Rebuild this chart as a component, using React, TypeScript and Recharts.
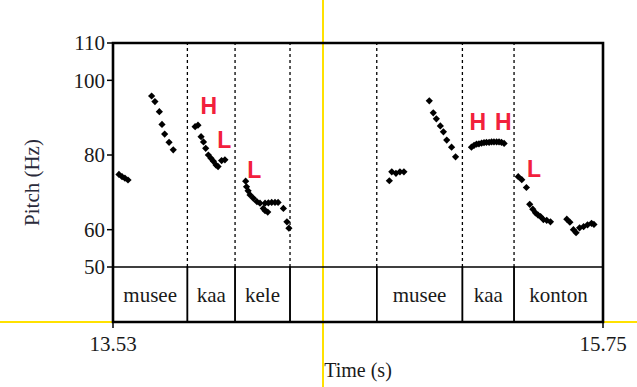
import {
  ScatterChart,
  Scatter,
  XAxis,
  YAxis,
  ReferenceLine,
  ReferenceArea,
} from 'recharts'

// pitch track, [time (s), pitch (Hz)], one array per stretch of voicing
const musee1A = [[13.557, 74.8], [13.571, 74.2], [13.584, 73.8], [13.598, 73.3]]
const musee1B = [
  [13.705, 95.8], [13.72, 94.3], [13.74, 91.6], [13.752, 88.2],
  [13.764, 85.6], [13.784, 83.4], [13.803, 81.4],
]
const kaa1 = [
  [13.902, 87.6], [13.915, 88.0], [13.929, 84.9], [13.94, 83.5], [13.95, 81.8],
  [13.962, 80.0], [13.974, 79.1], [13.985, 78.3], [13.997, 77.3], [14.006, 76.9],
  [14.022, 78.5], [14.037, 78.7],
]
const kele = [
  [14.131, 73.0], [14.135, 71.5], [14.142, 70.4], [14.151, 69.3], [14.166, 68.4],
  [14.182, 67.5], [14.196, 67.1], [14.211, 65.7], [14.219, 65.1], [14.231, 64.7],
  [14.219, 67.1], [14.234, 67.2], [14.249, 67.3], [14.264, 67.3], [14.278, 67.3],
  [14.302, 65.7], [14.318, 62.1], [14.327, 60.4],
]
const musee2A = [[14.782, 73.1], [14.793, 75.5], [14.812, 75.1], [14.83, 75.5], [14.848, 75.5]]
const musee2B = [
  [14.963, 94.5], [14.981, 91.3], [14.995, 89.7], [15.013, 87.8],
  [15.027, 86.2], [15.042, 84.0], [15.064, 82.1], [15.082, 79.5],
]
const kaa2 = [
  [15.154, 82.1], [15.166, 82.6], [15.177, 82.9], [15.188, 83.0], [15.2, 83.2],
  [15.211, 83.3], [15.222, 83.4], [15.234, 83.4], [15.245, 83.5], [15.256, 83.5],
  [15.268, 83.5], [15.279, 83.5], [15.29, 83.4], [15.302, 83.1],
]
const konton = [
  [15.366, 74.2], [15.382, 73.4], [15.403, 71.3], [15.418, 66.8], [15.432, 65.5],
  [15.444, 64.5], [15.456, 63.9], [15.467, 63.5], [15.48, 62.7], [15.495, 62.5],
  [15.512, 62.1], [15.586, 62.8], [15.6, 62.0], [15.616, 60.0], [15.628, 59.2],
  [15.644, 60.5], [15.662, 60.8], [15.68, 61.3], [15.698, 61.7], [15.709, 61.4],
]
const tracks = [musee1A, musee1B, kaa1, kele, musee2A, musee2B, kaa2, konton]

// tone marks written over the track
const toneText = ['H', 'L', 'L', 'H', 'H', 'L']
const toneTime = [13.964, 14.034, 14.17, 15.183, 15.298, 15.438]
const toneHz = [93.1, 84.1, 76.0, 88.9, 88.9, 76.3]

// word tier
const boundaries = [13.867, 14.083, 14.332, 14.725, 15.113, 15.347]
const words = ['musee', 'kaa', 'kele', '', 'musee', 'kaa', 'konton']

const T_START = 13.53
const T_END = 15.75
const xTicks = [13.53, 15.75]
const yTicks = [50, 60, 80, 100, 110]
const Y_TOP = 110
const Y_TIER = 50
const Y_MIN = 35.27 // bottom of the text tier below the pitch window

const SERIF = '"Liberation Serif", "Times New Roman", serif'
const INK = '#1a1a1a'

const edges = [T_START, ...boundaries, T_END]
const tones = toneText.map((text, i) => ({ t: toneTime[i], hz: toneHz[i], text }))

const Diamond = (props: any) => {
  const { cx, cy } = props
  const r = 3.6
  return (
    <polygon
      points={`${cx},${cy - r} ${cx + r},${cy} ${cx},${cy + r} ${cx - r},${cy}`}
      fill="#000"
    />
  )
}

const ToneMark = (props: any) => {
  const { cx, cy, payload } = props
  return (
    <text
      x={cx}
      y={cy}
      dy="0.36em"
      textAnchor="middle"
      fill="#f2203c"
      fontSize={23}
      fontWeight="bold"
      style={{ fontFamily: '"Liberation Sans", Arial, sans-serif' }}
    >
      {payload.text}
    </text>
  )
}

export default function App() {
  return (
    <div style={{ position: 'absolute', left: 0, top: 0, width: 637, height: 387, background: '#fff' }}>
      <style>{`.praat .recharts-text { font-family: ${SERIF}; }`}</style>
      {/* yellow guide lines of the picture window */}
      <div style={{ position: 'absolute', left: 322, top: 0, width: 2, height: 387, background: '#ffe100' }} />
      <div style={{ position: 'absolute', left: 0, top: 321, width: 637, height: 2, background: '#ffe100' }} />
      <div className="praat" style={{ position: 'absolute', left: 0, top: 0 }}>
        <ScatterChart width={637} height={387} margin={{ top: 43, right: 34, bottom: 0, left: 0 }}>
          <XAxis
            type="number"
            dataKey="t"
            domain={[T_START, T_END]}
            ticks={xTicks}
            interval={0}
            allowDataOverflow
            height={65}
            axisLine={false}
            tickSize={6}
            tickMargin={8}
            tickLine={{ stroke: '#000', strokeWidth: 1.5 }}
            tick={{ fill: INK, fontSize: 21 }}
            tickFormatter={(v: number) => v.toFixed(2)}
            label={{ value: 'Time (s)', position: 'insideBottom', offset: 10, fill: INK, fontSize: 20 }}
          />
          <YAxis
            type="number"
            dataKey="hz"
            domain={[Y_MIN, Y_TOP]}
            ticks={yTicks}
            interval={0}
            allowDataOverflow
            width={113}
            axisLine={false}
            tickSize={6}
            tickMargin={2}
            tickLine={{ stroke: '#000', strokeWidth: 1.5 }}
            tick={{ fill: INK, fontSize: 21 }}
            label={{
              value: 'Pitch (Hz)',
              angle: -90,
              position: 'insideLeft',
              offset: 32,
              fill: '#2a2a3a',
              fontSize: 21,
              style: { textAnchor: 'middle' },
            }}
          />

          {boundaries.map((b) => (
            <ReferenceLine
              key={'d' + b}
              segment={[{ x: b, y: Y_TIER }, { x: b, y: Y_TOP }]}
              stroke="#000"
              strokeWidth={1.3}
              strokeDasharray="3 3"
            />
          ))}

          {words.map((w, i) => (
            <ReferenceArea
              key={'w' + i}
              x1={edges[i]}
              x2={edges[i + 1]}
              y1={Y_MIN}
              y2={Y_TIER}
              fill="none"
              fillOpacity={0}
              stroke="#000"
              strokeWidth={1.5}
              label={w ? { value: w, position: 'center', fill: INK, fontSize: 21 } : undefined}
            />
          ))}

          {tracks.map((track, i) => (
            <Scatter
              key={'p' + i}
              data={track.map(([t, hz]) => ({ t, hz }))}
              shape={Diamond}
              isAnimationActive={false}
            />
          ))}

          <Scatter data={tones} shape={ToneMark} isAnimationActive={false} />

          <ReferenceArea
            x1={T_START}
            x2={T_END}
            y1={Y_MIN}
            y2={Y_TOP}
            fill="none"
            fillOpacity={0}
            stroke="#000"
            strokeWidth={2.6}
          />
        </ScatterChart>
      </div>
    </div>
  )
}
